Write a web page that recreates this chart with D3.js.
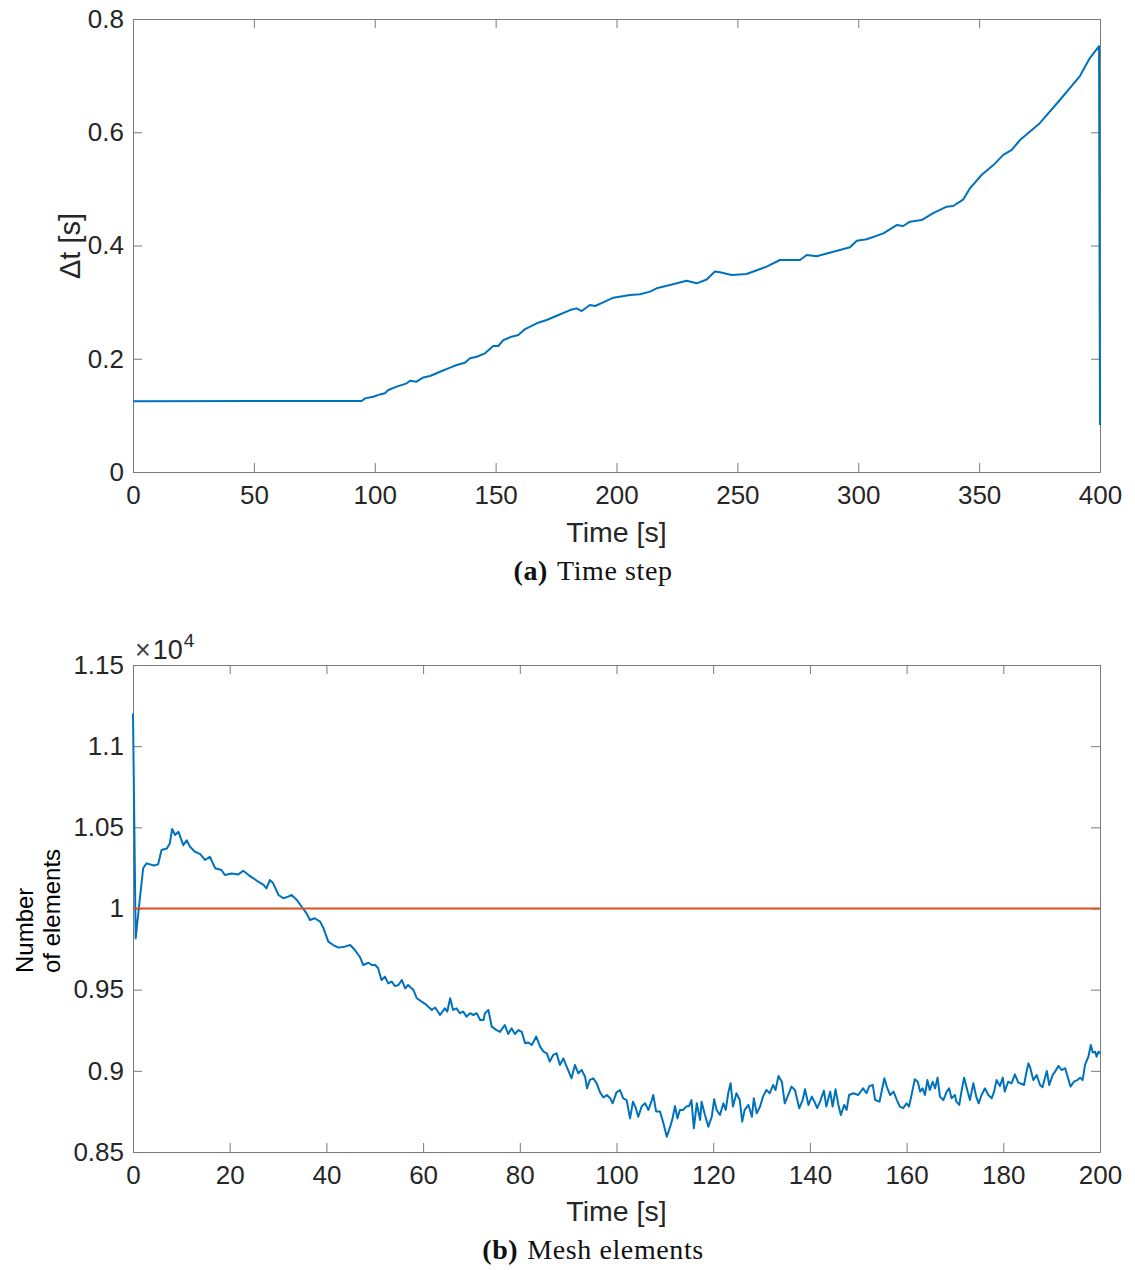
<!DOCTYPE html>
<html>
<head>
<meta charset="utf-8">
<script src="https://cdn.jsdelivr.net/npm/d3@7"></script>
<style>
  html, body { margin: 0; padding: 0; background: #fff; }
  svg { display: block; }
  .tick text { font-family: "Liberation Sans", Arial, sans-serif; fill: #262626; }
  .caption { font-family: "Liberation Serif", "Times New Roman", serif; fill: #111; }
</style>
</head>
<body>
<svg id="fig" width="1135" height="1270"></svg>
<script>
// ---- (a) time step history ----
const dtTime = [0, 94.6, 96, 99.4, 102.2, 104.2, 105.6, 109.1, 113.2, 114.6,
  117.3, 120.1, 122.9, 127, 130.4, 133.9, 137.3, 139.4, 142.2, 145.6,
  149, 151.1, 153.2, 156.6, 159.4, 162.2, 167, 171.1, 175.3, 180.8,
  183.5, 185.6, 189, 191.1, 194.5, 198.7, 205.6, 209.7, 213.9, 216.6,
  222.1, 229, 233.2, 237.3, 240.7, 242.8, 247.6, 253.8, 262.1, 267.6,
  275.9, 278.7, 282.8, 289.7, 296.6, 299.4, 303.5, 310.4, 315.9, 318.6,
  321.4, 326.2, 331, 336.6, 339.3, 343.5, 346.2, 351, 355.9, 360,
  363.5, 366.9, 375.1, 383.4, 391.7, 395.8, 399.6, 400];
const dtValue = [0.125, 0.1255, 0.130, 0.133, 0.137, 0.139, 0.1448, 0.1507, 0.1566, 0.1613,
  0.1595, 0.167, 0.1695, 0.177, 0.183, 0.189, 0.193, 0.2008, 0.2036, 0.2096,
  0.2225, 0.2225, 0.233, 0.239, 0.242, 0.2525, 0.2626, 0.2684, 0.276, 0.286,
  0.289, 0.2843, 0.2949, 0.2932, 0.2997, 0.3079, 0.3126, 0.3138, 0.3185, 0.3244,
  0.3302, 0.3379, 0.3332, 0.340, 0.354, 0.3527, 0.348, 0.3497, 0.3626, 0.3744,
  0.3744, 0.3832, 0.381, 0.389, 0.3968, 0.4085, 0.411, 0.4215, 0.436, 0.4344,
  0.442, 0.445, 0.457, 0.4686, 0.4697, 0.4815, 0.501, 0.5245, 0.542, 0.560,
  0.5687, 0.5863, 0.616, 0.657, 0.6993, 0.731, 0.752, 0.083];
const dtXTicks = [0, 50, 100, 150, 200, 250, 300, 350, 400];
const dtYTicks = [0, 0.2, 0.4, 0.6, 0.8];

// ---- (b) number of mesh elements ----
const meshTime = [
  0, 0.55, 1.24, 2.1, 2.8, 4.3, 5.2, 5.9, 7.0, 7.6,
  8.1, 8.7, 9.4, 10.4, 11.1, 11.8, 12.8, 13.9, 14.9, 15.9,
  17.0, 18.3, 19.0, 20.4, 21.8, 22.8, 23.9, 24.9, 25.9, 27.0,
  27.6, 28.3, 29.0, 30.1, 31.1, 32.1, 32.8, 33.9, 34.9, 35.9,
  36.6, 37.6, 38.7, 39.4, 40.4, 41.4, 42.5, 43.8, 44.9, 45.9,
  46.9, 47.6, 48.7, 49.4, 50.1, 50.7, 51.4, 52.1, 52.8, 53.5,
  54.2, 54.9, 55.6, 56.3, 56.9, 58.0, 58.7, 59.7, 60.7, 61.8,
  62.5, 63.5, 64.5, 65.0, 65.6, 66.2, 66.9, 67.6, 68.3, 69.0,
  69.7, 70.4, 71.1, 71.8, 72.5, 72.8, 73.5, 74.2, 75.2, 75.9,
  76.9, 77.6, 78.3, 79.0, 79.7, 80.4, 81.1, 81.7, 82.5, 83.4,
  84.2, 84.9, 85.6, 86.2, 86.9, 87.6, 88.3, 89.0, 89.7, 90.7,
  91.4, 92.1, 92.8, 93.5, 93.9, 94.5, 95.2, 95.9, 96.6, 97.3,
  98.0, 98.7, 99.2, 100.0, 100.7, 101.4, 102.1, 102.8, 103.4, 104.0,
  104.5, 105.2, 105.9, 106.6, 107.3, 107.6, 108.2, 109.0, 109.7, 110.4,
  111.1, 111.6, 112.1, 112.6, 113.1, 113.8, 114.4, 115.0, 115.5, 116.0,
  116.6, 117.3, 117.6, 118.3, 119.0, 119.7, 120.2, 120.7, 121.4, 122.1,
  122.6, 123.1, 123.6, 124.1, 124.8, 125.5, 126.0, 126.5, 127.3, 128.0,
  128.4, 129.0, 129.7, 130.3, 131.0, 131.7, 132.4, 132.9, 133.5, 134.2,
  134.8, 135.5, 136.2, 136.9, 137.8, 138.5, 139.0, 139.7, 140.4, 141.1,
  141.5, 142.1, 142.9, 143.4, 144.2, 144.7, 145.3, 145.9, 146.4, 147.1,
  147.6, 148.1, 149.0, 150.0, 151.0, 151.7, 152.3, 153.0, 153.5, 154.4,
  154.9, 155.4, 155.9, 156.6, 157.3, 158.0, 158.6, 159.3, 160.0, 160.5,
  161.1, 161.7, 162.3, 162.8, 163.3, 163.8, 164.3, 164.8, 165.4, 165.9,
  166.4, 166.9, 167.6, 168.3, 168.8, 169.3, 170.0, 170.3, 170.9, 171.4,
  171.9, 172.5, 173.1, 173.8, 174.4, 174.9, 175.5, 176.2, 176.9, 177.6,
  178.1, 178.6, 179.3, 179.9, 180.3, 181.0, 181.7, 182.4, 183.1, 183.8,
  184.3, 184.7, 185.2, 185.6, 186.2, 186.9, 187.6, 188.1, 188.6, 189.0,
  189.5, 190.2, 190.7, 191.4, 192.1, 192.8, 193.2, 193.9, 194.6, 195.3,
  195.9, 196.4, 196.9, 197.6, 198.1, 198.5, 199.0, 199.3, 199.7, 200.0];
const meshCount = [
  11202, 9816, 10011, 10248, 10278, 10265, 10272, 10360, 10370, 10400,
  10490, 10453, 10473, 10390, 10420, 10380, 10350, 10335, 10299, 10319,
  10248, 10237, 10206, 10216, 10210, 10233, 10206, 10186, 10165, 10145,
  10124, 10175, 10155, 10083, 10063, 10073, 10083, 10052, 10011, 9970,
  9929, 9940, 9919, 9878, 9796, 9775, 9759, 9765, 9775, 9744,
  9703, 9652, 9666, 9652, 9652, 9632, 9559, 9580, 9539, 9550,
  9522, 9529, 9559, 9508, 9529, 9498, 9447, 9426, 9406, 9375,
  9390, 9344, 9385, 9365, 9447, 9375, 9385, 9355, 9365, 9334,
  9355, 9344, 9355, 9313, 9313, 9355, 9375, 9272, 9251, 9240,
  9282, 9227, 9262, 9227, 9251, 9240, 9170, 9175, 9159, 9211,
  9149, 9118, 9108, 9057, 9098, 9108, 9036, 9077, 9026, 8954,
  9036, 8985, 9005, 8964, 8892, 8944, 8954, 8923, 8867, 8836,
  8851, 8831, 8800, 8867, 8882, 8831, 8820, 8707, 8810, 8770,
  8717, 8780, 8800, 8759, 8820, 8851, 8749, 8749, 8677, 8594,
  8656, 8707, 8783, 8707, 8759, 8759, 8780, 8783, 8820, 8646,
  8800, 8697, 8810, 8728, 8656, 8717, 8825, 8759, 8728, 8800,
  8759, 8862, 8923, 8780, 8862, 8820, 8687, 8759, 8790, 8717,
  8831, 8738, 8780, 8841, 8882, 8862, 8913, 8882, 8968, 8933,
  8800, 8851, 8903, 8882, 8770, 8820, 8886, 8790, 8841, 8800,
  8770, 8810, 8878, 8780, 8872, 8780, 8886, 8790, 8728, 8790,
  8759, 8851, 8862, 8851, 8892, 8862, 8906, 8913, 8820, 8810,
  8882, 8954, 8903, 8851, 8872, 8820, 8780, 8770, 8800, 8780,
  8862, 8948, 8933, 8872, 8892, 8851, 8943, 8882, 8933, 8892,
  8958, 8841, 8820, 8872, 8892, 8831, 8851, 8810, 8790, 8882,
  8958, 8886, 8820, 8923, 8841, 8800, 8851, 8892, 8851, 8831,
  8872, 8943, 8906, 8958, 8872, 8933, 8923, 8978, 8927, 8919,
  8913, 8980, 9046, 9016, 8943, 8974, 8913, 8899, 8954, 8999,
  8913, 8974, 8995, 9030, 9005, 9016, 8974, 8903, 8933, 8943,
  8958, 8943, 9036, 9087, 9159, 9113, 9118, 9087, 9118, 9108];
const targetTime = [0, 200];
const targetCount = [10000, 10000];
const meshXTicks = [0, 20, 40, 60, 80, 100, 120, 140, 160, 180, 200];
const meshYTicks = [8500, 9000, 9500, 10000, 10500, 11000, 11500];

const BLUE = "#0072BD", ORANGE = "#D95319";
const AXIS = "#7a7a7a", TEXT = "#262626";
const TICK = 9;
const SANS = "Liberation Sans, Arial, sans-serif";
const svg = d3.select("#fig");

function panel(opts) {
  const { left, right, top, bottom, x, y, xTicks, yTicks, yFormat } = opts;
  const g = svg.append("g");
  const styleAxis = sel => {
    sel.select(".domain").attr("stroke", AXIS).attr("stroke-width", 1);
    sel.selectAll(".tick line").attr("stroke", AXIS).attr("stroke-width", 1);
    sel.selectAll(".tick text").attr("font-size", 26).attr("fill", TEXT);
  };
  // bottom axis with labels
  g.append("g").attr("transform", `translate(0,${bottom})`)
    .call(d3.axisBottom(x).tickValues(xTicks).tickSizeInner(-TICK).tickSizeOuter(0)
      .tickPadding(14).tickFormat(d3.format("d")))
    .call(styleAxis);
  // top box edge
  g.append("g").attr("transform", `translate(0,${top})`)
    .call(d3.axisTop(x).tickValues(xTicks).tickSizeInner(-TICK).tickSizeOuter(0).tickFormat(""))
    .call(styleAxis);
  // left axis with labels
  g.append("g").attr("transform", `translate(${left},0)`)
    .call(d3.axisLeft(y).tickValues(yTicks).tickSizeInner(-TICK).tickSizeOuter(0)
      .tickPadding(9).tickFormat(yFormat))
    .call(styleAxis);
  // right box edge
  g.append("g").attr("transform", `translate(${right},0)`)
    .call(d3.axisRight(y).tickValues(yTicks).tickSizeInner(-TICK).tickSizeOuter(0).tickFormat(""))
    .call(styleAxis);
  return g;
}

function caption(cx, cy, tag, label) {
  const t = svg.append("text").attr("class", "caption").attr("x", cx).attr("y", cy)
    .attr("text-anchor", "middle").attr("font-size", 28).attr("letter-spacing", 0.6);
  t.append("tspan").attr("font-weight", "bold").text(tag);
  t.append("tspan").attr("dx", 9).text(label);
}

// ---------- panel (a) ----------
const xa = d3.scaleLinear().domain([0, 400]).range([133, 1100]);
const ya = d3.scaleLinear().domain([0, 0.8]).range([472, 19]);
const ga = panel({ left: 133, right: 1100, top: 19, bottom: 472, x: xa, y: ya,
  xTicks: dtXTicks, yTicks: dtYTicks, yFormat: d3.format("~g") });

const lineA = d3.line().x(i => xa(dtTime[i])).y(i => ya(dtValue[i]));
ga.append("path").attr("d", lineA(d3.range(dtTime.length)))
  .attr("fill", "none").attr("stroke", BLUE).attr("stroke-width", 2)
  .attr("stroke-linejoin", "round");

ga.append("text").attr("transform", "translate(80,246) rotate(-90)")
  .attr("text-anchor", "middle").attr("font-family", SANS)
  .attr("font-size", 29).attr("fill", TEXT).text("Δt [s]");
ga.append("text").attr("x", 616.5).attr("y", 542)
  .attr("text-anchor", "middle").attr("font-family", SANS)
  .attr("font-size", 28.5).attr("fill", TEXT).text("Time [s]");

caption(593, 580, "(a)", "Time step");

// ---------- panel (b) ----------
const xb = d3.scaleLinear().domain([0, 200]).range([133, 1100]);
const yb = d3.scaleLinear().domain([8500, 11500]).range([1152, 665]);
const gb = panel({ left: 133, right: 1100, top: 665, bottom: 1152, x: xb, y: yb,
  xTicks: meshXTicks, yTicks: meshYTicks, yFormat: d => d3.format(".3~g")(d / 1e4) });

const lineB = d3.line().x(i => xb(meshTime[i])).y(i => yb(meshCount[i]));
gb.append("path").attr("d", lineB(d3.range(meshTime.length)))
  .attr("fill", "none").attr("stroke", BLUE).attr("stroke-width", 2)
  .attr("stroke-linejoin", "round");
const lineT = d3.line().x(i => xb(targetTime[i])).y(i => yb(targetCount[i]));
gb.append("path").attr("d", lineT(d3.range(targetTime.length)))
  .attr("fill", "none").attr("stroke", ORANGE).attr("stroke-width", 2);

// exponent marker above the y axis
const expo = gb.append("text").attr("x", 135).attr("y", 659)
  .attr("font-family", SANS).attr("font-size", 27).attr("fill", TEXT);
expo.append("tspan").attr("font-weight", 300).attr("fill", "#444").text("×");
expo.append("tspan").attr("dx", 2).text("10");
expo.append("tspan").attr("font-size", 19).attr("dy", -12).attr("dx", 1).text("4");

const yl = gb.append("text").attr("font-family", SANS)
  .attr("font-size", 24).attr("fill", "#000").attr("text-anchor", "start");
yl.append("tspan").attr("x", 0).attr("y", 0).text("Number");
yl.append("tspan").attr("x", 0).attr("y", 27).text("of elements");
yl.attr("transform", "translate(33,973) rotate(-90)");

gb.append("text").attr("x", 616.5).attr("y", 1221)
  .attr("text-anchor", "middle").attr("font-family", SANS)
  .attr("font-size", 28.5).attr("fill", TEXT).text("Time [s]");

caption(593, 1259, "(b)", "Mesh elements");
</script>
</body>
</html>
